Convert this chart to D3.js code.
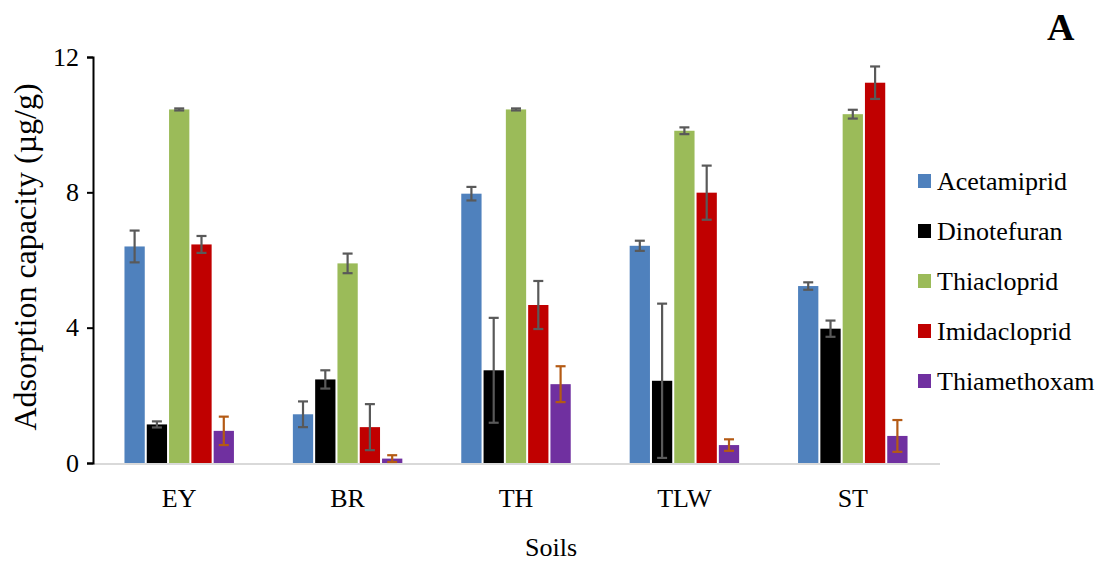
<!DOCTYPE html>
<html>
<head>
<meta charset="utf-8">
<script src="https://cdn.jsdelivr.net/npm/d3@7"></script>
<style>
  html, body { margin: 0; padding: 0; background: #fff; }
  svg { display: block; }
</style>
</head>
<body>
<svg id="chart" width="1105" height="563"></svg>
<script>
// Soil samples along the x axis
const soils = ["EY", "BR", "TH", "TLW", "ST"];

// Insecticides (one bar each per soil)
const compounds = ["Acetamiprid", "Dinotefuran", "Thiacloprid", "Imidacloprid", "Thiamethoxam"];

// Adsorption capacity (µg/g), per compound, in soil order
const acetamiprid  = [6.40, 1.44, 7.96, 6.42, 5.23];
const dinotefuran  = [1.14, 2.47, 2.74, 2.43, 3.97];
const thiacloprid  = [10.45, 5.90, 10.45, 9.82, 10.31];
const imidacloprid = [6.46, 1.06, 4.67, 7.99, 11.24];
const thiamethoxam = [0.95, 0.13, 2.33, 0.53, 0.80];

// Standard deviations, same layout
const acetamipridErr  = [0.47, 0.38, 0.20, 0.15, 0.11];
const dinotefuranErr  = [0.09, 0.27, 1.55, 2.28, 0.24];
const thiaclopridErr  = [0.03, 0.29, 0.03, 0.10, 0.13];
const imidaclopridErr = [0.25, 0.68, 0.71, 0.80, 0.48];
const thiamethoxamErr = [0.42, 0.10, 0.53, 0.17, 0.47];

const yTicks = [0, 4, 8, 12];

const values = [acetamiprid, dinotefuran, thiacloprid, imidacloprid, thiamethoxam];
const errors = [acetamipridErr, dinotefuranErr, thiaclopridErr, imidaclopridErr, thiamethoxamErr];
const colors = ["#4f81bd", "#000000", "#9bbb59", "#c00000", "#7030a0"];
const errColors = ["#595959", "#595959", "#595959", "#595959", "#b45a14"];

const FONT = "Liberation Serif";

const svg = d3.select("#chart");
const root = svg.append("g").attr("font-family", FONT);

const x0 = d3.scaleBand().domain(soils).range([95, 937]).paddingInner(0.35).paddingOuter(0.175);
const x1 = d3.scaleBand().domain(compounds).range([0, x0.bandwidth()]).paddingInner(0.09).paddingOuter(0);
const y = d3.scaleLinear().domain([0, 12]).range([463, 57]);
const color = d3.scaleOrdinal().domain(compounds).range(colors);
const errColor = d3.scaleOrdinal().domain(compounds).range(errColors);

// Flatten into one record per bar
const records = [];
soils.forEach((s, i) => {
  compounds.forEach((c, j) => {
    records.push({ soil: s, compound: c, value: values[j][i], err: errors[j][i] });
  });
});

// X axis baseline (light grey)
root.append("line")
  .attr("x1", 93).attr("x2", 940)
  .attr("y1", y(0) + 1).attr("y2", y(0) + 1)
  .attr("stroke", "#d9d9d9").attr("stroke-width", 2);

// Bars
root.append("g").selectAll("rect")
  .data(records)
  .join("rect")
  .attr("x", d => x0(d.soil) + x1(d.compound))
  .attr("y", d => y(d.value))
  .attr("width", x1.bandwidth())
  .attr("height", d => y(0) - y(d.value))
  .attr("fill", d => color(d.compound));

// Error bars
const capHalf = 5;
const cx = d => x0(d.soil) + x1(d.compound) + x1.bandwidth() / 2;
const eb = root.append("g").selectAll("g")
  .data(records)
  .join("g")
  .attr("stroke", d => errColor(d.compound))
  .attr("stroke-width", 2.2);
eb.append("line")
  .attr("x1", cx).attr("x2", cx)
  .attr("y1", d => y(d.value + d.err))
  .attr("y2", d => y(Math.max(0, d.value - d.err)));
eb.append("line")
  .attr("x1", d => cx(d) - capHalf).attr("x2", d => cx(d) + capHalf)
  .attr("y1", d => y(d.value + d.err))
  .attr("y2", d => y(d.value + d.err));
eb.append("line")
  .attr("x1", d => cx(d) - capHalf).attr("x2", d => cx(d) + capHalf)
  .attr("y1", d => y(Math.max(0, d.value - d.err)))
  .attr("y2", d => y(Math.max(0, d.value - d.err)));

// Y axis
const yAxis = root.append("g")
  .attr("transform", "translate(93,0)")
  .call(d3.axisLeft(y).tickValues(yTicks).tickSize(6).tickSizeOuter(6).tickPadding(8));
yAxis.attr("font-family", FONT).attr("font-size", 26);
yAxis.select(".domain").attr("stroke", "#000").attr("stroke-width", 2);
yAxis.selectAll(".tick line").attr("stroke", "#000").attr("stroke-width", 2);
yAxis.selectAll(".tick text")
  .attr("font-family", FONT)
  .attr("font-size", 26).attr("fill", "#000");

// X axis labels
const xAxis = root.append("g")
  .attr("transform", `translate(0,${y(0)})`)
  .call(d3.axisBottom(x0).tickSize(0).tickPadding(26));
xAxis.attr("font-family", FONT).attr("font-size", 26);
xAxis.select(".domain").remove();
xAxis.selectAll(".tick text")
  .attr("font-family", FONT)
  .attr("font-size", 26).attr("fill", "#000");

// Axis titles
root.append("text")
  .attr("x", 551).attr("y", 556)
  .attr("text-anchor", "middle")
  .attr("font-family", FONT)
  .attr("font-size", 26)
  .text("Soils");

root.append("text")
  .attr("transform", "translate(36,257) rotate(-90)")
  .attr("text-anchor", "middle")
  .attr("font-family", FONT)
  .attr("font-size", 32)
  .text("Adsorption capacity (µg/g)");

// Panel letter
root.append("text")
  .attr("x", 1047).attr("y", 40)
  .attr("font-family", FONT)
  .attr("font-size", 38).attr("font-weight", "bold")
  .text("A");

// Legend
const lg = root.append("g").selectAll("g")
  .data(compounds)
  .join("g")
  .attr("transform", (d, i) => `translate(918,${181 + i * 50})`);
lg.append("rect")
  .attr("x", 0).attr("y", -7)
  .attr("width", 13).attr("height", 14)
  .attr("fill", d => color(d));
lg.append("text")
  .attr("x", 19).attr("y", 0)
  .attr("dy", "0.35em")
  .attr("font-family", FONT)
  .attr("font-size", 26)
  .text(d => d);
</script>
</body>
</html>
